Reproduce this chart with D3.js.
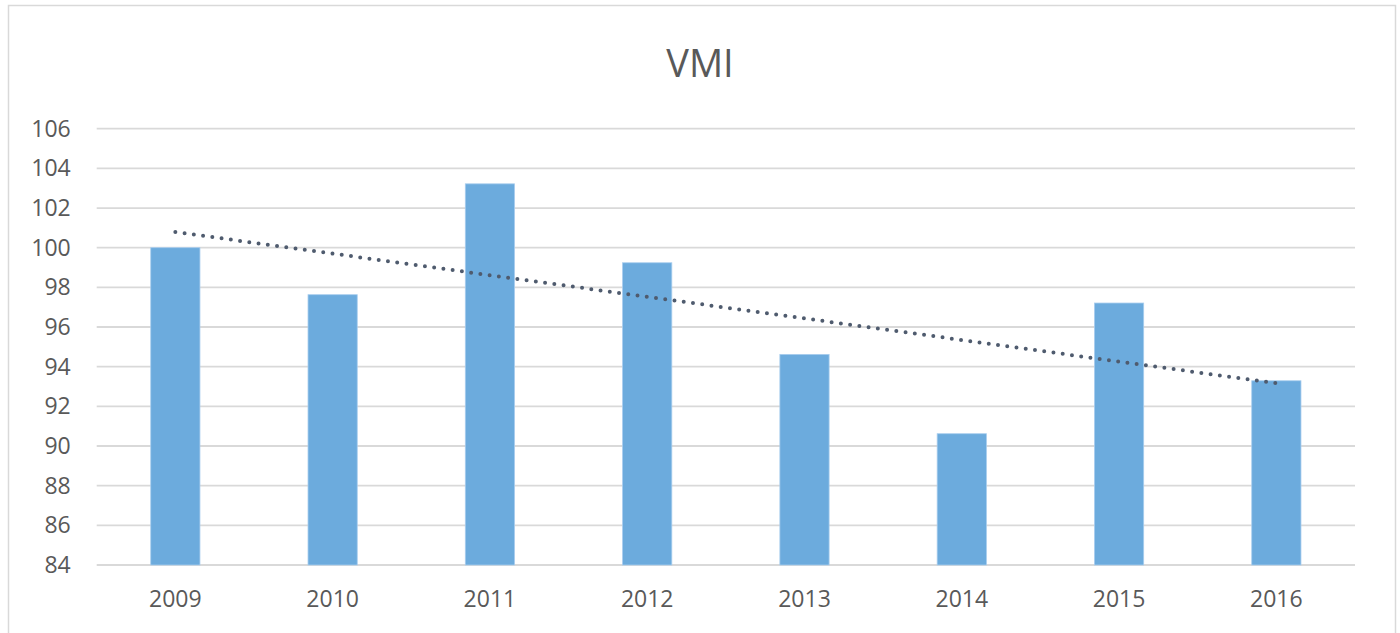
<!DOCTYPE html>
<html>
<head>
<meta charset="utf-8">
<script src="https://cdn.jsdelivr.net/npm/d3@7"></script>
<style>
  html, body { margin: 0; padding: 0; background: #fff; }
  svg { display: block; font-family: 'Open Sans', sans-serif; }
</style>
</head>
<body>
<div id="chart"></div>
<script>
const years = ['2009', '2010', '2011', '2012', '2013', '2014', '2015', '2016']
const vmi = [100.0, 97.63, 103.22, 99.24, 94.62, 90.62, 97.21, 93.29]
const yTicks = [84, 86, 88, 90, 92, 94, 96, 98, 100, 102, 104, 106]
const title = 'VMI'

const width = 1400, height = 633
const margin = { top: 128.7, right: 45, bottom: 68, left: 96.7 }

const svg = d3.select('#chart')
    .append('svg')
    .attr('width', width)
    .attr('height', height)

// chart frame
svg.append('rect')
    .attr('x', 8.5)
    .attr('y', 5.5)
    .attr('width', 1387)
    .attr('height', 660)
    .attr('fill', '#fff')
    .attr('stroke', '#d9d9d9')
    .attr('stroke-width', 1.5)

svg.append('text')
    .attr('x', 700)
    .attr('y', 77)
    .attr('text-anchor', 'middle')
    .attr('fill', '#595959')
    .attr('font-size', 38)
    .text(title)

const x = d3.scaleBand()
    .domain(years)
    .range([margin.left, width - margin.right])
    .paddingInner(0.687)
    .paddingOuter(0.3435)

const y = d3.scaleLinear()
    .domain([84, 106])
    .range([565, margin.top])

// gridlines
svg.append('g')
    .selectAll('line')
    .data(yTicks)
    .join('line')
    .attr('x1', margin.left)
    .attr('x2', width - margin.right)
    .attr('y1', d => y(d))
    .attr('y2', d => y(d))
    .attr('stroke', '#d9d9d9')
    .attr('stroke-width', 1.8)

// y labels
const yAxis = svg.append('g')
    .attr('transform', 'translate(' + (margin.left - 26) + ',0)')
    .call(d3.axisLeft(y).tickValues(yTicks).tickSize(0).tickPadding(0))
yAxis.select('.domain').remove()
yAxis.selectAll('text')
    .attr('fill', '#595959')
    .attr('font-size', 23)
    .attr('font-family', "'Open Sans', sans-serif")

// x labels
const xAxis = svg.append('g')
    .attr('transform', 'translate(0,565)')
    .call(d3.axisBottom(x).tickSize(0).tickPadding(26))
xAxis.select('.domain').remove()
xAxis.selectAll('text')
    .attr('fill', '#595959')
    .attr('font-size', 23)
    .attr('font-family', "'Open Sans', sans-serif")

// bars
svg.append('g')
    .selectAll('rect')
    .data(vmi)
    .join('rect')
    .attr('x', (d, i) => x(years[i]))
    .attr('width', x.bandwidth())
    .attr('y', d => y(d))
    .attr('height', d => 565 - y(d))
    .attr('fill', '#6cabdd')
    .attr('stroke', '#a8cdee')
    .attr('stroke-width', 0.8)

// linear trendline (least squares over category index)
const n = vmi.length
const xs = d3.range(n)
const mx = d3.mean(xs), my = d3.mean(vmi)
const slope = d3.sum(xs, i => (i - mx) * (vmi[i] - my)) / d3.sum(xs, i => (i - mx) * (i - mx))
const intercept = my - slope * mx

const xc = i => x(years[i]) + x.bandwidth() / 2
const trend = [0, n - 1]

svg.append('path')
    .datum(trend)
    .attr('fill', 'none')
    .attr('stroke', '#4f5b6e')
    .attr('stroke-width', 4)
    .attr('stroke-linecap', 'round')
    .attr('stroke-dasharray', '0 9.33')
    .attr('d', d3.line()
        .x(i => xc(i))
        .y(i => y(intercept + slope * i)))
</script>
</body>
</html>
